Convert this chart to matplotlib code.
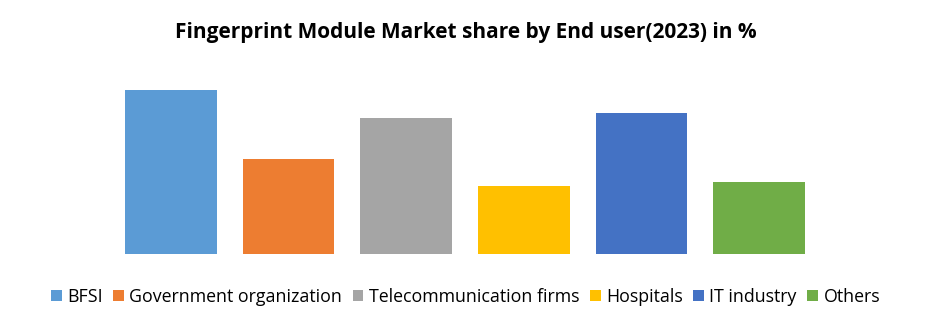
import matplotlib.pyplot as plt

categories = ["BFSI", "Government organization", "Telecommunication firms",
              "Hospitals", "IT industry", "Others"]
shares = [24.2, 14.0, 20.1, 10.0, 20.9, 10.7]
colors = ["#5B9BD5", "#ED7D31", "#A5A5A5", "#FFC000", "#4472C4", "#70AD47"]

plt.rcParams['font.family'] = ['Open Sans', 'DejaVu Sans']

fig = plt.figure(figsize=(9.31, 3.27), dpi=100)
ax = fig.add_axes([0.1203, 0.2232, 0.7583, 0.5383])
x = range(len(categories))
bars = ax.bar(x, shares, width=0.78, color=colors, label=categories)
ax.set_xlim(-0.5, len(categories) - 0.5)
ax.set_ylim(0, 26)
ax.axis('off')

fig.text(0.5, 0.9, "Fingerprint Module Market share by End user(2023) in %",
         ha='center', va='center', fontsize=15, fontweight='bold')

fig.legend(bars, categories, loc='center', bbox_to_anchor=(0.5, 0.092), ncol=6,
           frameon=False, fontsize=12.8, handlelength=0.6, handleheight=0.6,
           handletextpad=0.3, columnspacing=0.6, borderaxespad=0)

fig.savefig("out.png", dpi=100)
